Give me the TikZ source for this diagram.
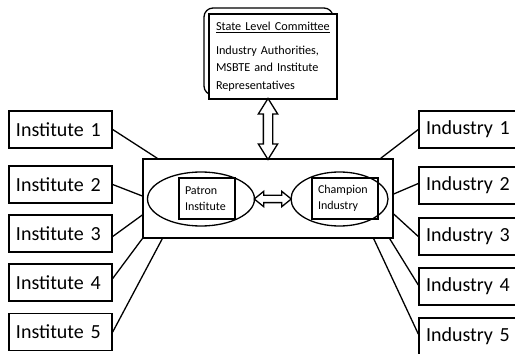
\documentclass[tikz,border=0pt]{standalone}
\usepackage{fontspec}
\setmainfont{Carlito}
\usetikzlibrary{shapes.geometric,shapes.arrows,calc}

\begin{document}
\begin{tikzpicture}[x=1pt,y=1pt]
\tikzset{unit box/.style = {draw, line width=1.4pt, text width=89pt, inner xsep=7pt, minimum height=37pt, align=left, font=\fontsize{20}{22}\selectfont},
  inner box/.style = {draw, line width=1.3pt, align=left, minimum height=41pt, inner xsep=6pt, font=\fontsize{12}{16.5}\selectfont},
  oval/.style = {draw, ellipse, line width=1.3pt, minimum height=54pt, inner sep=0pt},
  link/.style = {line width=1.3pt},
  hollow/.style = {double arrow, draw, line width=1.3pt, fill=white, inner xsep=0pt}}
\useasboundingbox (0,0) rectangle (515,354);
\clip (0,0) rectangle (515,354);

% institutes (left) and industries (right)
\foreach \i/\y in {1/224.5, 2/169.5, 3/120.5, 4/71.5, 5/22}
  \node[unit box] (inst\i) at (60.5,\y) {Institute \i};
\foreach \i/\y in {1/224.5, 2/168.5, 3/117.5, 4/67.5, 5/17.5}
  \node[unit box] (ind\i) at (470.5,\y) {Industry \i};

% central block
\node[draw, line width=1.4pt, minimum width=250pt, minimum height=79pt] (hub) at (268,155.5) {};
\node[oval, minimum width=107pt] (patronoval) at (201,155) {};
\node[inner box, text width=44pt] (patron) at (207,155.5) {Patron\\Institute};
\node[oval, minimum width=97pt] (championoval) at (339.5,155) {};
\node[inner box, text width=54pt] (champion) at (345,155.5) {Champion\\Industry};

% committee on top
\node[draw, line width=1.3pt, rounded corners=9pt, minimum width=129pt, minimum height=87pt] (committeeback) at (268.5,302.5) {};
\node[draw, line width=1.3pt, fill=white, text width=114pt, inner xsep=7pt, minimum height=85pt, align=left,
  font=\fontsize{12.2}{17.5}\selectfont] (committee) at (273,297.5)
  {\underline{State Level Committee}\\[6pt]Industry Authorities,\\MSBTE and Institute\\Representatives};

% two way links
\node[hollow, rotate=90, minimum height=61pt, inner ysep=4pt, double arrow head extend=5pt, double arrow tip angle=64]
  (uplink) at ($(hub.north)!0.5!(hub.north |- committee.south)$) {};
\node[hollow, minimum height=37pt, inner ysep=3pt, double arrow head extend=4pt, double arrow tip angle=78]
  (midlink) at ($(patronoval.east)!0.5!(championoval.west)$) {};

% connectors
\draw[link] (inst1.east) -- ([xshift=15pt]hub.north west);
\draw[link] (inst2.east) -- ([yshift=2.5pt]hub.west);
\draw[link] ([yshift=-3pt]inst3.east) -- ([yshift=-16.5pt]hub.west);
\draw[link] ([yshift=4pt]inst4.east) -- (hub.south west);
\draw[link] (inst5.east) -- ([xshift=20pt]hub.south west);
\draw[link] ([xshift=-13pt]hub.north east) -- (ind1.west);
\draw[link] ([yshift=4.5pt]hub.east) -- ([yshift=2pt]ind2.west);
\draw[link] ([yshift=-15.5pt]hub.east) -- (ind3.west);
\draw[link] ([xshift=-4pt]hub.south east) -- ([yshift=1.5pt]ind4.west);
\draw[link] ([xshift=-20pt]hub.south east) -- ([yshift=2.5pt]ind5.west);
\end{tikzpicture}
\end{document}
